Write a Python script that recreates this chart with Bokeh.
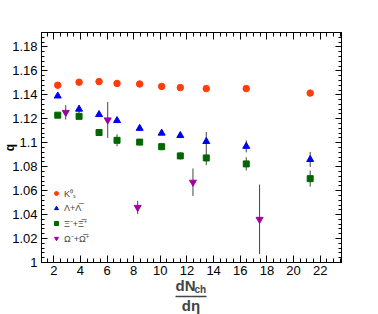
import numpy as np
from bokeh.plotting import figure
from bokeh.models import (LinearAxis, FixedTicker, Label, Legend, LegendItem)
from bokeh.embed import file_html
from bokeh.resources import INLINE

# ---- data ----
x_cls = [2.3, 3.9, 5.4, 6.75, 8.45, 10.1, 11.5, 13.45, 16.45, 21.25]
q_k0s = [1.148, 1.1505, 1.151, 1.1495, 1.149, 1.147, 1.146, 1.1452, 1.1452, 1.1414]
e_k0s = [0.001, 0.001, 0.001, 0.0015, 0.001, 0.0015, 0.001, 0.001, 0.001, 0.001]
q_lam = [1.139, 1.128, 1.1235, 1.1185, 1.112, 1.108, 1.106, 1.101, 1.097, 1.086]
e_lam = [0.001, 0.0033, 0.002, 0.002, 0.001, 0.001, 0.002, 0.008, 0.005, 0.0063]
q_xi = [1.123, 1.122, 1.1085, 1.102, 1.1005, 1.0967, 1.089, 1.0873, 1.0823, 1.070]
e_xi = [0.001, 0.002, 0.002, 0.005, 0.002, 0.003, 0.003, 0.006, 0.0055, 0.0067]
x_om = [2.9, 6.05, 8.3, 12.45, 17.45]
q_om = [1.1253, 1.119, 1.046, 1.067, 1.036]
e_om = [0.006, 0.015, 0.0055, 0.0115, 0.029]

x_ticks = [2, 4, 6, 8, 10, 12, 14, 16, 18, 20, 22]
x_tick_labels = ["2", "4", "6", "8", "10", "12", "14", "16", "18", "20", "22"]
y_ticks = [1.0, 1.02, 1.04, 1.06, 1.08, 1.1, 1.12, 1.14, 1.16, 1.18]
y_tick_labels = ["1", "1.02", "1.04", "1.06", "1.08", "1.1", "1.12", "1.14", "1.16", "1.18"]
legend_labels = ["K\u2070\u209b", "\u039b+\u039b\u0305", "\u039e\u207b+\u039e\u0305\u207a", "\u03a9\u207b+\u03a9\u0305\u207a"]
colors = ["#ff3c0a", "#0000ee", "#006600", "#a000a0"]

FONT = "Liberation Sans"
X0, X1 = 1.08, 23.6
Y0, Y1 = 1.0, 1.192

p = figure(frame_width=300, frame_height=230, min_border_left=40, min_border_right=38,
           min_border_top=32, min_border_bottom=52,
           x_range=(X0, X1), y_range=(Y0, Y1),
           output_backend="svg", toolbar_location=None,
           x_axis_type=None, y_axis_type=None)
p.grid.visible = False
p.outline_line_color = "black"
p.background_fill_color = "white"
p.border_fill_color = "white"

x_minor = list(np.arange(1.5, 23.6, 0.5))
y_minor = list(np.round(np.arange(1.0, 1.1921, 0.004), 4))

def make_axis(ticks, labels, minor, show_labels, maj, mnr):
    ax = LinearAxis(ticker=FixedTicker(ticks=ticks, minor_ticks=minor))
    if show_labels:
        ax.major_label_overrides = {t: l for t, l in zip(ticks, labels)}
    else:
        ax.major_label_overrides = {t: "" for t in ticks}
        ax.major_label_standoff = 0
    ax.major_tick_in = maj
    ax.major_tick_out = 0
    ax.minor_tick_in = mnr
    ax.minor_tick_out = 0
    ax.axis_line_color = "black"
    ax.major_tick_line_color = "black"
    ax.minor_tick_line_color = "black"
    ax.major_label_text_font = FONT
    ax.major_label_text_color = "black"
    ax.major_label_text_font_size = "13px"
    return ax

xb = make_axis(x_ticks, x_tick_labels, x_minor, True, 7, 4)
xb.major_label_standoff = 3
yl = make_axis(y_ticks, y_tick_labels, y_minor, True, 6, 3)
yl.major_label_standoff = 4
yl.axis_label = "q"
yl.axis_label_text_font = FONT
yl.axis_label_text_font_style = "bold"
yl.axis_label_text_font_size = "12px"
yl.axis_label_text_color = "black"
yl.axis_label_standoff = -8
xt = make_axis(x_ticks, x_tick_labels, x_minor, False, 7, 4)
yr = make_axis(y_ticks, y_tick_labels, y_minor, False, 6, 3)
p.add_layout(xb, "below")
p.add_layout(yl, "left")
p.add_layout(xt, "above")
p.add_layout(yr, "right")

def errbars(x, q, e):
    y0 = [a - b for a, b in zip(q, e)]
    y1 = [a + b for a, b in zip(q, e)]
    p.segment(x0=x, y0=y0, x1=x, y1=y1, line_color="#444444", line_width=1)

errbars(x_cls, q_k0s, e_k0s)
errbars(x_cls, q_lam, e_lam)
errbars(x_cls, q_xi, e_xi)
errbars(x_om, q_om, e_om)

r1 = p.scatter(x_cls, q_k0s, marker="circle", size=6.5, fill_color=colors[0], line_color=colors[0])
r2 = p.scatter(x_cls, q_lam, marker="triangle", size=7, fill_color=colors[1], line_color=colors[1])
r3 = p.scatter(x_cls, q_xi, marker="square", size=6, fill_color=colors[2], line_color=colors[2])
r4 = p.scatter(x_om, q_om, marker="inverted_triangle", size=7, fill_color=colors[3], line_color=colors[3])

legend = Legend(items=[LegendItem(label=l, renderers=[r]) for l, r in zip(legend_labels, [r1, r2, r3, r4])],
                location=(10, 17), padding=0, margin=0, spacing=1, glyph_width=10, glyph_height=14,
                label_height=14, label_standoff=3, label_text_font=FONT, label_text_font_size="9px",
                background_fill_alpha=0, border_line_alpha=0)
p.add_layout(legend, "center")

# pixel -> data helpers for the x-axis title placed below the frame
def dx(px):
    return X0 + (px - 40) * (X1 - X0) / 300.0

def dy(py):
    return Y0 + (262 - py) * (Y1 - Y0) / 230.0

def title_label(px, py, text, size, align="center"):
    p.add_layout(Label(x=dx(px), y=dy(py), text=text,
                       text_font=FONT, text_font_style="bold", text_font_size=size,
                       text_align=align, text_baseline="middle"), "below")

title_label(184, 285, "dN", "15px")
title_label(193, 289, "ch", "10px", align="left")
title_label(189.5, 295, "\u2014\u2014", "15.5px")
title_label(189.5, 305, "d\u03b7", "15px")

open("out.html", "w").write(file_html(p, INLINE))
